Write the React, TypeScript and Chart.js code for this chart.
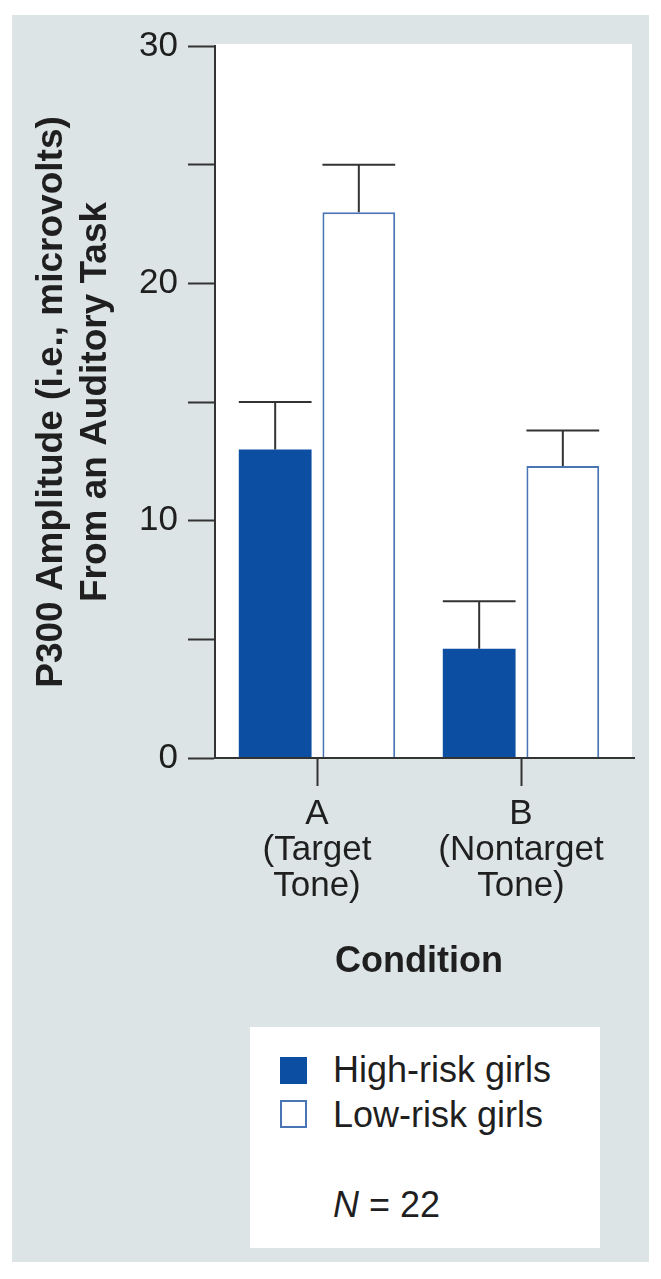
import React, { useEffect, useRef } from 'react';
import { Chart, registerables } from 'chart.js';

Chart.register(...registerables);

// ---------- data ----------
const categories: string[][] = [
  ['A', '(Target', 'Tone)'],
  ['B', '(Nontarget', 'Tone)'],
];
const seriesNames = ['High-risk girls', 'Low-risk girls'];
const highRisk = [13.0, 4.6];
const lowRisk = [23.0, 12.3];
const highRiskErr = [2.0, 2.0];
const lowRiskErr = [2.0, 1.5];
const yTicks = [0, 5, 10, 15, 20, 25, 30];
const yLabeled = [0, 10, 20, 30];
const yTitle = ['P300 Amplitude (i.e., microvolts)', 'From an Auditory Task'];
const xTitle = 'Condition';
const sampleLabel = 'N';
const sampleValue = ' = 22';

// ---------- styles ----------
const FONT = "'Liberation Sans', Arial, Helvetica, sans-serif";
const PANEL_BG = '#dce4e6';
const DARK = '#333333';
const TEXT = '#1f1f1f';
const BLUE = '#0b4ea2';
const BLUE_LINE = '#4a75b5';

const CANVAS_W = 637;
const CANVAS_H = 990;

const errors = [highRiskErr, lowRiskErr];
const values = [highRisk, lowRisk];

const plotPlugin = {
  id: 'plotDecor',
  beforeDraw(chart: any) {
    const { ctx, chartArea } = chart;
    ctx.save();
    ctx.fillStyle = '#ffffff';
    ctx.fillRect(chartArea.left, chartArea.top - 2, chartArea.right + 9 - chartArea.left, chartArea.bottom - chartArea.top + 2);
    ctx.restore();
  },
  afterDatasetsDraw(chart: any) {
    const { ctx, chartArea } = chart;
    const yScale = chart.scales.y;
    ctx.save();
    ctx.strokeStyle = DARK;
    ctx.lineWidth = 2;
    chart.data.datasets.forEach((_ds: any, i: number) => {
      const meta = chart.getDatasetMeta(i);
      meta.data.forEach((bar: any, j: number) => {
        const topVal = values[i][j] + errors[i][j];
        const yTop = yScale.getPixelForValue(topVal);
        const half = bar.width / 2;
        ctx.beginPath();
        ctx.moveTo(bar.x, bar.y);
        ctx.lineTo(bar.x, yTop);
        ctx.moveTo(bar.x - half, yTop);
        ctx.lineTo(bar.x + half, yTop);
        ctx.stroke();
      });
    });
    // baseline (x axis line), extending slightly beyond the last category
    ctx.beginPath();
    ctx.moveTo(chartArea.left - 1, chartArea.bottom);
    ctx.lineTo(chartArea.right + 12, chartArea.bottom);
    ctx.stroke();
    ctx.restore();
  },
};

function ChartCanvas() {
  const ref = useRef<HTMLCanvasElement | null>(null);
  useEffect(() => {
    if (!ref.current) return;
    const chart = new Chart(ref.current, {
      type: 'bar',
      data: {
        labels: categories as any,
        datasets: [
          {
            label: seriesNames[0],
            data: highRisk,
            backgroundColor: BLUE,
            borderColor: BLUE,
            borderWidth: 0,
          },
          {
            label: seriesNames[1],
            data: lowRisk,
            backgroundColor: '#ffffff',
            borderColor: BLUE_LINE,
            borderWidth: 2,
          },
        ],
      },
      options: {
        responsive: false,
        animation: false,
        devicePixelRatio: 1,
        categoryPercentage: 0.82,
        barPercentage: 0.87,
        layout: { padding: { left: 0, top: 30, right: 26, bottom: 0 } },
        plugins: {
          legend: { display: false },
          tooltip: { enabled: false },
        },
        scales: {
          x: {
            type: 'category',
            offset: true,
            grid: {
              offset: false,
              drawOnChartArea: false,
              drawTicks: true,
              tickLength: 28,
              tickWidth: 2,
              tickColor: DARK,
            },
            border: { display: false },
            ticks: {
              color: TEXT,
              padding: 10,
              maxRotation: 0,
              autoSkip: false,
              font: { family: FONT, size: 35, lineHeight: 36 / 35 },
            },
            title: {
              display: true,
              text: xTitle,
              color: TEXT,
              padding: { top: 0, bottom: 21 },
              font: { family: FONT, size: 36, weight: 'bold', lineHeight: 1.2 },
            },
            afterFit: (scale: any) => {
              scale.height = CANVAS_H - 743;
            },
          },
          y: {
            type: 'linear',
            min: 0,
            max: 30,
            grid: {
              drawOnChartArea: false,
              drawTicks: true,
              tickLength: 27,
              tickWidth: 2,
              tickColor: DARK,
            },
            border: { display: true, color: DARK, width: 2 },
            afterBuildTicks: (scale: any) => {
              scale.ticks = yTicks.map((v) => ({ value: v }));
            },
            ticks: {
              color: TEXT,
              padding: 10,
              font: { family: FONT, size: 35, lineHeight: 1.2 },
              callback: (v: any) => (yLabeled.includes(Number(v)) ? String(v) : ''),
            },
            title: {
              display: true,
              text: yTitle,
              color: TEXT,
              padding: { top: 18, bottom: 0 },
              font: { family: FONT, size: 37, weight: 'bold', lineHeight: 44 / 37 },
            },
            afterFit: (scale: any) => {
              scale.width = 203;
            },
          },
        },
      } as any,
      plugins: [plotPlugin],
    });
    return () => chart.destroy();
  }, []);
  return (
    <canvas
      ref={ref}
      width={CANVAS_W}
      height={CANVAS_H}
      style={{ position: 'absolute', left: 0, top: 0, width: CANVAS_W, height: CANVAS_H }}
    />
  );
}

function Legend() {
  const textStyle: React.CSSProperties = {
    position: 'absolute',
    left: 83,
    fontFamily: FONT,
    fontSize: 36,
    lineHeight: '36px',
    color: TEXT,
    whiteSpace: 'nowrap',
  };
  return (
    <div
      style={{
        position: 'absolute',
        left: 238,
        top: 1012,
        width: 350,
        height: 221,
        background: '#ffffff',
      }}
    >
      <div style={{ position: 'absolute', left: 30, top: 30, width: 27, height: 27, background: BLUE }} />
      <div style={{ ...textStyle, top: 25 }}>{seriesNames[0]}</div>
      <div
        style={{
          position: 'absolute',
          left: 30,
          top: 73,
          width: 27,
          height: 28,
          background: '#ffffff',
          border: `2px solid ${BLUE_LINE}`,
          boxSizing: 'border-box',
        }}
      />
      <div style={{ ...textStyle, top: 70 }}>{seriesNames[1]}</div>
      <div style={{ ...textStyle, top: 160 }}>
        <span style={{ fontStyle: 'italic' }}>{sampleLabel}</span>
        {sampleValue}
      </div>
    </div>
  );
}

export default function App() {
  return (
    <div style={{ position: 'relative', width: 645, height: 1262, background: '#ffffff' }}>
      <div
        style={{
          position: 'absolute',
          left: 4,
          top: 7,
          width: 637,
          height: 1247,
          background: PANEL_BG,
        }}
      >
        <ChartCanvas />
        <Legend />
      </div>
    </div>
  );
}
